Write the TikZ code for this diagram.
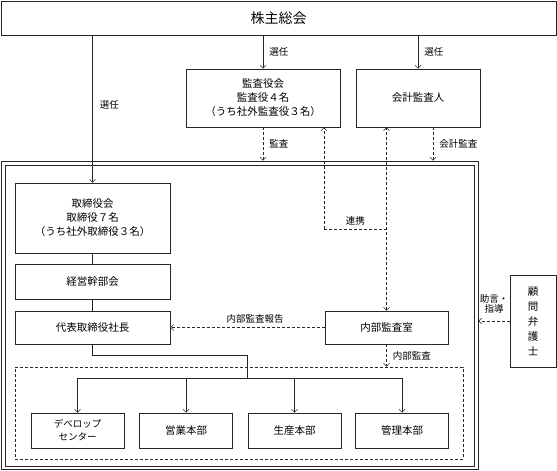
\documentclass[tikz,border=0pt]{standalone}
\usepackage{fontspec}
\setmainfont{Noto Sans CJK JP}
\usetikzlibrary{arrows.meta}
\tikzset{
  box/.style={draw, align=center, inner sep=0pt, font=\fontsize{10.5}{14}\selectfont},
  lbl/.style={font=\fontsize{9.5}{11}\selectfont, inner sep=1pt, align=center},
  dsh/.style={dash pattern=on 3pt off 2pt},
}
\begin{document}
\begin{tikzpicture}[x=1pt, y=-1pt, line width=0.6pt, draw=black!85,
    >={Straight Barb[length=3pt,width=6pt]}]
  \useasboundingbox (0,0) rectangle (557,471);

  \node[box, minimum width=555, minimum height=34, font=\fontsize{14}{16}\selectfont]
       (soukai) at (278.5,18) {株主総会};
  \node[box, minimum width=154, minimum height=58] (kansa)  at (263,98)  {監査役会\\監査役４名\\（うち社外監査役３名）};
  \node[box, minimum width=124, minimum height=58] (kaikei) at (418,98)  {会計監査人};
  \node[draw, minimum width=477, minimum height=308] (frame)   at (239.5,315)   {};
  \node[draw, minimum width=469, minimum height=301] (frameIn) at (239.5,315.5) {};
  \node[box, minimum width=155, minimum height=70] (torishimari) at (92.5,218)   {取締役会\\取締役７名\\（うち社外取締役３名）};
  \node[box, minimum width=155, minimum height=35] (keiei)       at (92.5,281.5) {経営幹部会};
  \node[box, minimum width=155, minimum height=33] (daihyo)      at (92.5,327.5) {代表取締役社長};
  \node[box, minimum width=123, minimum height=33] (naibu)       at (386.5,327.5) {内部監査室};
  \node[box, minimum width=46, minimum height=92, font=\fontsize{10.5}{15}\selectfont]
       (komon) at (533,321) {顧\\問\\弁\\護\\士};
  \node[draw, dsh, minimum width=448, minimum height=92] (bumon) at (239,413) {};
  \node[box, minimum width=93, minimum height=35, font=\fontsize{9.5}{13}\selectfont]
       (dev)    at (77.5,430.5) {デベロップ\\センター};
  \node[box, minimum width=93, minimum height=35] (eigyo)  at (186,430.5)   {営業本部};
  \node[box, minimum width=93, minimum height=35] (seisan) at (294.5,430.5) {生産本部};
  \node[box, minimum width=93, minimum height=35] (kanri)  at (402,430.5)   {管理本部};

  \coordinate (renkei) at (324,229);
  \coordinate (bunki)  at (247.5,378);

  \draw[->] (soukai.south -| torishimari.north) -- (torishimari.north)
        node[lbl, pos=0.47, right=6pt] {選任};
  \draw[->] (soukai.south -| kansa.north) -- (kansa.north)
        node[lbl, midway, right=5pt] {選任};
  \draw[->] (soukai.south -| kaikei.north) -- (kaikei.north)
        node[lbl, midway, right=5pt] {選任};

  \draw[dsh, ->] (kansa.south) -- (kansa.south |- frame.north)
        node[lbl, midway, right=5pt] {監査};
  \draw[dsh, ->] ([xshift=15pt]kaikei.south) -- ([xshift=15pt]kaikei.south |- frame.north)
        node[lbl, midway, right=5pt] {会計監査};
  \draw[dsh, ->] (renkei) -- (renkei |- kansa.south);
  \draw[dsh, <->] (naibu.north) -- (naibu.north |- kaikei.south);
  \draw[dsh] (renkei) -- (renkei -| naibu.north)
        node[lbl, midway, above=2pt] {連携};

  \draw (torishimari) -- (keiei);
  \draw (keiei) -- (daihyo);
  \draw[dsh, ->] (naibu.west) -- (daihyo.east)
        node[lbl, pos=0.45, above=3pt] {内部監査報告};
  \draw[dsh, ->] (naibu.south) -- (naibu.south |- bumon.north)
        node[lbl, midway, right=5pt] {内部監査};
  \draw[dsh, ->] (komon.west) -- (komon.west -| frame.east)
        node[lbl, midway, above=6pt, font=\fontsize{9.5}{10.5}\selectfont] {助言・\\指導};

  \draw (daihyo.south) -- ++(0,11) -| (bunki);
  \draw (dev.north |- bunki) -- (kanri.north |- bunki);
  \foreach \n in {dev,eigyo,seisan,kanri}
    \draw[->] (\n.north |- bunki) -- (\n.north);
\end{tikzpicture}
\end{document}
